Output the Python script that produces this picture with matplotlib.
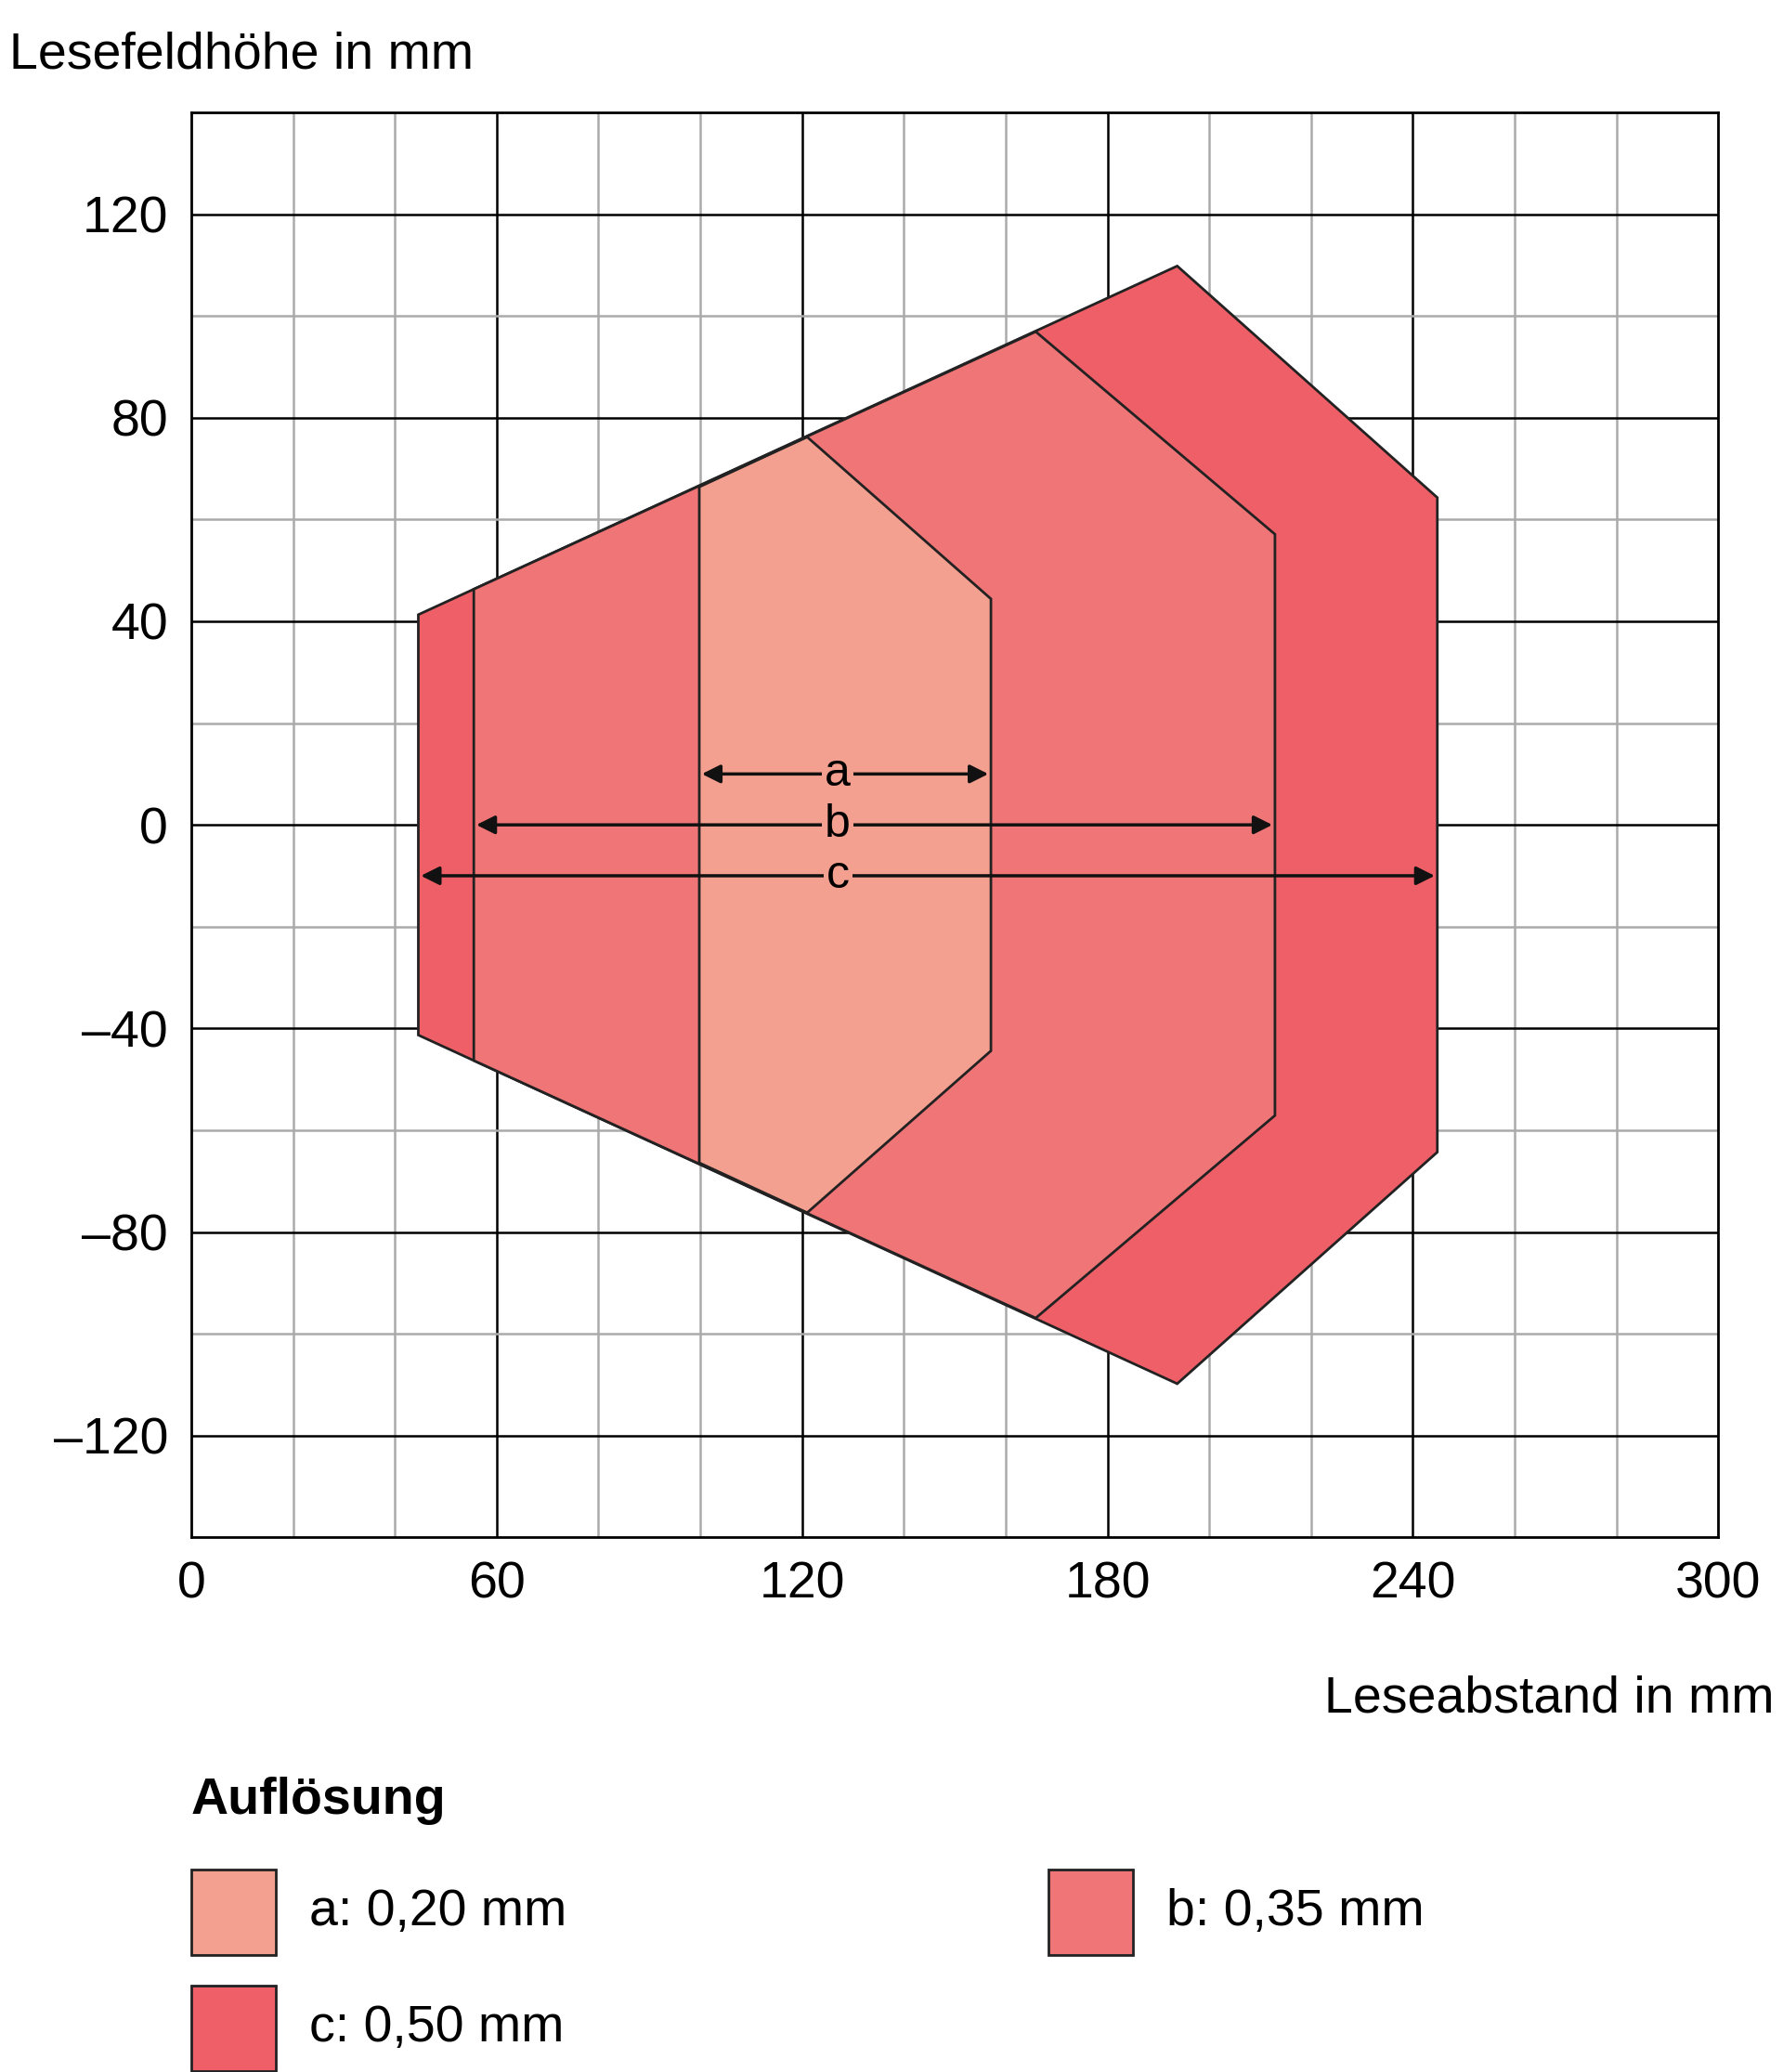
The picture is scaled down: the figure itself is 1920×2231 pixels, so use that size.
import matplotlib.pyplot as plt
from matplotlib.patches import Polygon, Rectangle

plt.rcParams['font.family'] = ['Liberation Sans', 'DejaVu Sans']

# zone outlines (upper half, mirrored below)
c_x = [44.6, 193.7, 244.8]
c_y = [41.3, 109.8, 64.3]
b_x = [55.5, 165.9, 212.9]
b_y = [46.3, 96.9, 57.1]
a_x = [99.8, 121.0, 157.1]
a_y = [66.4, 76.2, 44.4]
labels = ['a', 'b', 'c']
arrow_y = [10, 0, -10]
arrow_x0 = [99.8, 55.5, 44.6]
arrow_x1 = [157.1, 212.9, 244.8]
legend_txt = ['a: 0,20 mm', 'b: 0,35 mm', 'c: 0,50 mm']
colors = ['#F4A090', '#F07577', '#EF5F67']

W, H = 1920, 2231
fig = plt.figure(figsize=(W/100, H/100), dpi=100)
ax = fig.add_axes([0.1073, 0.258, 0.8564, 0.6878])
ax.set_xlim(0, 300)
ax.set_ylim(-140, 140)

for x in range(20, 300, 20):
    ax.axvline(x, color='#000' if x % 60 == 0 else '#aaa', lw=1.8 if x % 60 == 0 else 1.8, zorder=0)
for y in range(-120, 140, 20):
    ax.axhline(y, color='#000' if y % 40 == 0 else '#aaa', lw=1.8, zorder=0)

def shape(xs, ys):
    return [(xs[0], -ys[0]), (xs[0], ys[0]), (xs[1], ys[1]), (xs[2], ys[2]),
            (xs[2], -ys[2]), (xs[1], -ys[1])]

for (xs, ys), col in zip([(c_x, c_y), (b_x, b_y), (a_x, a_y)], colors[::-1]):
    ax.add_patch(Polygon(shape(xs, ys), closed=True, fc=col, ec='#222', lw=2, zorder=2))

for lab, y, x0, x1 in zip(labels, arrow_y, arrow_x0, arrow_x1):
    ax.annotate('', xy=(x0, y), xytext=(x1, y),
                arrowprops=dict(arrowstyle='<|-|>', color='#111', lw=2.5, mutation_scale=30), zorder=3)
    ax.text(127, y, lab, ha='center', va='center', fontsize=36, zorder=4,
            bbox=dict(fc=colors[0], ec='none', pad=2))

ax.set_xticks(range(0, 301, 60))
ax.set_yticks(range(-120, 121, 40))
ax.set_yticklabels(['–120', '–80', '–40', '0', '40', '80', '120'])
ax.tick_params(labelsize=40, length=0, pad=18)
for s in ax.spines.values():
    s.set_linewidth(2)

fig.text(0.005, 0.985, 'Lesefeldhöhe in mm', fontsize=40, va='top')
fig.text(0.995, 0.18, 'Leseabstand in mm', fontsize=40, ha='right', va='center')
fig.text(0.1073, 0.131, 'Auflösung', fontsize=40, weight='bold', va='center')

leg_pos = [(0.1073, 0.077), (0.588, 0.077), (0.1073, 0.021)]
for (x, y), txt, col in zip(leg_pos, legend_txt, colors):
    fig.add_artist(Rectangle((x, y - 0.0205), 0.0474, 0.041, transform=fig.transFigure,
                             fc=col, ec='#222', lw=2))
    fig.text(x + 0.066, y, txt, fontsize=40, va='center')

fig.savefig('out.png')
